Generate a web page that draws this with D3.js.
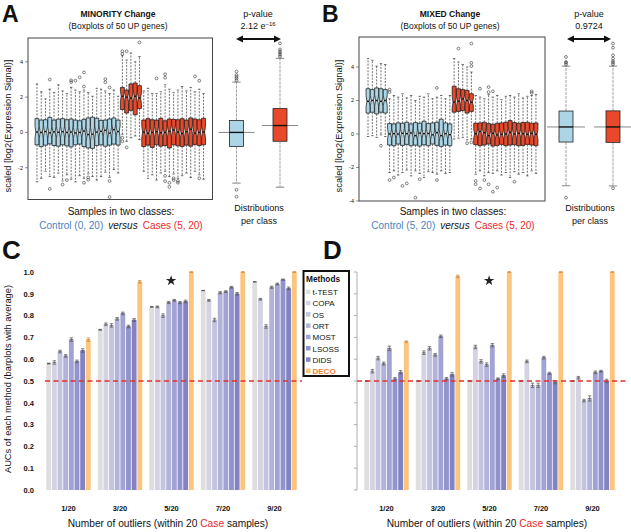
<!DOCTYPE html>
<html><head><meta charset="utf-8">
<script src="https://cdn.jsdelivr.net/npm/d3@7"></script>
<style>
body{margin:0;background:#fff}
text{font-family:"Liberation Sans",Arial,sans-serif}
</style>
</head><body>
<svg id="c" width="631" height="532"></svg>
<script>
// ---------- DATA ----------
// Panel A: 40 samples (20 control, 20 cases; cases 1-5 are outliers)
const aLow = [-2.8,-2.6,-2.2,-2.5,-2.55,-2.3,-2.75,-2.4,-2.65,-2.8,-2.45,-2.6,-2.35,-2.5,-2.7,-2.5,-2.25,-2.55,-2.1,-2.3,
  -0.1,-0.5,-0.3,-0.2,-0.4,
  -2.2,-2.6,-2.4,-2.7,-2.3,-2.2,-2.5,-2.35,-2.6,-2.45,-2.3,-2.55,-2.2,-2.4,-2.65];
const aQ1 = [-0.7,-0.8,-0.72,-0.65,-0.74,-0.78,-0.7,-0.76,-0.82,-0.7,-0.66,-0.8,-0.88,-0.9,-0.74,-0.7,-0.78,-0.72,-0.66,-0.72,
  1.3,1.1,1.25,1.0,1.35,
  -0.8,-0.72,-0.85,-0.7,-0.78,-0.74,-0.88,-0.7,-0.76,-0.8,-0.72,-0.78,-0.68,-0.74,-0.7];
const aMed = [0.02,0.0,0.05,-0.02,0.03,0.01,0.04,0.0,0.02,-0.03,0.0,0.08,-0.12,-0.1,0.02,0.06,0.12,-0.04,0.16,0.05,
  2.05,2.0,1.95,2.05,1.95,
  0.02,-0.05,0.0,0.04,-0.02,0.0,0.06,0.14,0.02,-0.06,0.04,0.18,-0.04,0.0,0.02];
const aQ3 = [0.78,0.7,0.72,0.85,0.7,0.75,0.78,0.72,0.76,0.7,0.66,0.74,0.82,0.86,0.8,0.68,0.7,0.76,0.82,0.7,
  2.55,2.4,2.75,2.8,2.65,
  0.7,0.78,0.72,0.7,0.8,0.66,0.76,0.74,0.72,0.78,0.7,0.82,0.76,0.72,0.8];
const aHigh = [2.75,2.3,1.9,2.45,2.25,2.7,2.35,2.2,2.55,2.4,2.3,2.4,2.25,2.05,2.5,2.45,2.35,2.2,2.4,2.05,
  4.35,4.1,4.5,4.0,4.3,
  2.35,2.5,2.2,2.2,2.3,2.7,2.45,2.25,2.4,2.6,2.35,2.55,2.3,2.45,2.2];
const aOut = [[4,3.0],[9,2.85],[9,2.95],[10,2.93],[11,3.12],[12,2.6],[12,3.4],[17,2.84],[17,3.02],[18,2.55],
  [4,-3.2],[7,-2.95],[8,-2.7],[12,-2.85],[13,-2.55],[13,-2.68],[18,-2.75],[18,-3.66],
  [21,4.6],[21,4.45],[21,-0.3],[21,-0.5],[22,4.6],[22,-0.85],[25,5.1],
  [29,3.06],[31,3.1],[31,3.3],[38,3.17],[39,2.93],[31,-2.46],[31,-2.76],[32,-2.85],[32,-3.08],[33,-2.6],[33,-2.7],[34,-2.75],[34,-2.85],[39,-2.6]];

// Panel B: 40 samples (control 1-5 and cases 1-5 are outliers)
const bLow = [-0.15,-0.1,-0.2,-0.05,-0.15,
  -2.3,-2.2,-2.45,-2.3,-2.15,-2.5,-2.2,-2.35,-2.6,-2.25,-2.3,-2.4,-2.2,-2.35,-2.3,
  -0.3,-0.25,-0.2,-0.35,-0.3,
  -2.4,-2.2,-2.5,-2.3,-2.35,-2.2,-2.45,-2.3,-2.6,-2.25,-2.4,-2.3,-2.5,-2.2,-2.35];
const bQ1 = [1.25,1.3,1.2,1.3,1.25,
  -0.66,-0.7,-0.6,-0.68,-0.62,-0.7,-0.66,-0.72,-0.64,-0.7,-0.6,-0.68,-0.74,-0.66,-0.7,
  1.3,1.35,1.4,1.25,1.35,
  -0.64,-0.7,-0.66,-0.6,-0.72,-0.68,-0.62,-0.7,-0.66,-0.64,-0.7,-0.68,-0.62,-0.66,-0.7];
const bMed = [1.95,2.0,2.0,1.95,2.0,
  0.0,0.02,0.0,0.04,0.02,0.06,-0.1,0.05,0.02,0.03,-0.05,0.08,-0.1,0.02,-0.04,
  1.9,1.95,2.1,2.0,1.9,
  0.02,0.15,0.08,-0.1,0.04,-0.05,-0.02,0.0,0.1,0.0,0.04,0.02,-0.02,0.04,-0.02];
const bQ3 = [2.7,2.65,2.75,2.7,2.65,
  0.62,0.6,0.66,0.64,0.7,0.6,0.68,0.64,0.76,0.62,0.66,0.7,0.88,0.66,0.6,
  2.85,2.7,2.65,2.6,2.4,
  0.64,0.66,0.7,0.62,0.58,0.64,0.66,0.7,0.8,0.68,0.64,0.68,0.7,0.64,0.66];
const bHigh = [4.5,4.4,4.05,4.2,4.15,
  2.1,2.3,2.2,2.4,2.15,2.3,2.0,2.25,2.2,2.4,2.1,2.2,2.3,2.1,2.3,
  4.5,4.3,4.15,4.0,3.7,
  2.3,2.2,2.1,2.35,2.2,2.3,2.05,2.25,2.3,2.2,2.4,2.15,2.25,2.3,2.35];
const bOut = [[4,-0.7],[6,2.65],[6,2.5],[17,2.75],[6,-2.75],[7,-2.6],[9,-3.1],[10,-2.95],[12,-3.8],[13,-2.7],[17,-2.75],
  [22,5.1],[25,5.4],[25,4.25],[25,4.05],[24,-0.55],[25,-0.5],
  [27,2.7],[29,2.8],[29,2.5],[30,2.55],[39,2.55],[39,2.45],[26,-2.8],[26,-3.0],[27,-3.25],[28,-2.75],[29,-3.0],[30,-3.45],[31,-3.2],[35,-2.85]];

// Distributions per class: [low whisker, Q1, median, Q3, high whisker]
const distA = [[-2.87,-0.79,0.0,0.68,2.85],[-3.1,-0.5,0.39,1.35,4.2]];
const distAOut = [[2.95,3.05,3.15,3.25,3.45,-3.25,-3.64],[4.3,4.4,4.5,4.6,4.7,5.05]];
const distB = [[-3.09,-0.48,0.42,1.37,4.05],[-3.1,-0.5,0.42,1.38,4.05]];
const distBOut = [[4.15,4.25,4.3,4.6,-3.8],[4.15,4.25,4.35,4.5,4.7,5.15,5.4,-3.24]];
const pvalA = "2.12 e", pvalAExp = "\u221216", pvalB = "0.9724";

// Panels C & D: mean AUC per method in each outlier group
const groups = ["1/20","3/20","5/20","7/20","9/20"];
const methods = ["t-TEST","COPA","OS","ORT","MOST","LSOSS","DIDS","DECO"];
const methodColors = ["#dedede","#d3d3e3","#c4c4df","#b3b3da","#a2a2d4","#9292cd","#8383c4","#fcc47c"];
const aucC = [
  [0.58,0.585,0.635,0.615,0.69,0.59,0.64,0.69],
  [0.735,0.76,0.755,0.785,0.81,0.75,0.78,0.955],
  [0.84,0.84,0.80,0.86,0.87,0.86,0.865,1.0],
  [0.915,0.87,0.78,0.905,0.91,0.93,0.90,1.0],
  [0.955,0.875,0.75,0.93,0.945,0.965,0.925,1.0]];
const errC = [
  [0.002,0.008,0.006,0.006,0.008,0.006,0.008,0.008],
  [0.002,0.006,0.008,0.006,0.006,0.006,0.007,0.006],
  [0.002,0.004,0.008,0.005,0.004,0.005,0.006,0.0],
  [0.001,0.004,0.008,0.005,0.004,0.004,0.006,0.0],
  [0.001,0.004,0.008,0.005,0.004,0.003,0.006,0.0]];
const aucD = [
  [0.50,0.545,0.605,0.58,0.65,0.51,0.54,0.68],
  [0.50,0.63,0.65,0.62,0.705,0.51,0.53,0.98],
  [0.50,0.656,0.59,0.575,0.664,0.51,0.525,1.0],
  [0.50,0.59,0.48,0.48,0.607,0.535,0.495,1.0],
  [0.50,0.515,0.41,0.42,0.54,0.545,0.50,1.0]];
const errD = [
  [0.002,0.008,0.008,0.007,0.01,0.006,0.008,0.004],
  [0.002,0.008,0.008,0.006,0.006,0.006,0.008,0.006],
  [0.001,0.008,0.008,0.008,0.008,0.004,0.008,0.0],
  [0.001,0.006,0.01,0.01,0.006,0.005,0.008,0.0],
  [0.001,0.006,0.006,0.012,0.006,0.004,0.008,0.0]];
const yTicksC = [0,0.1,0.2,0.3,0.4,0.5,0.6,0.7,0.8,0.9,1.0];
const yTicksAB = [-4,-2,0,2,4];
const starGroup = "5/20";

// ---------- DRAW ----------
const svg = d3.select("#c");
const BLUE = "#acd6e6", RED = "#e8492a";

function txt(g, x, y, s, size, opt = {}) {
  const t = g.append("text").attr("x", x).attr("y", y).attr("font-size", size)
    .attr("text-anchor", opt.anchor || "middle").attr("fill", opt.fill || "#111")
    .attr("font-weight", opt.bold ? "bold" : "normal").text(s);
  if (opt.italic) t.attr("font-style", "italic");
  if (opt.rot) t.attr("transform", `rotate(-90,${x},${y})`);
  return t;
}

function boxPanel(frame, dom, lo, q1, med, q3, hi, outl, colorFor) {
  const g = svg.append("g");
  const xs = d3.scaleLinear().domain([-1.1, 42.1]).range([frame.x0, frame.x1]);
  const ys = d3.scaleLinear().domain(dom).range([frame.y1, frame.y0]);
  const w = (xs(1) - xs(0)) * 0.92;
  lo.forEach((_, i) => {
    const cx = xs(i + 1), x0 = cx - w / 2, x1 = cx + w / 2;
    [[q3[i], hi[i]], [q1[i], lo[i]]].forEach(([a, b]) => {
      g.append("line").attr("x1", cx).attr("x2", cx).attr("y1", ys(a)).attr("y2", ys(b))
        .attr("stroke", "#333").attr("stroke-width", 0.7).attr("stroke-dasharray", "2,1.3");
      g.append("line").attr("x1", cx - w * 0.3).attr("x2", cx + w * 0.3).attr("y1", ys(b)).attr("y2", ys(b))
        .attr("stroke", "#333").attr("stroke-width", 0.7);
    });
    const nh = 1.58 * (q3[i] - q1[i]) / Math.sqrt(50);
    const ym = ys(med[i]), ya = ys(med[i] + nh), yb = ys(med[i] - nh);
    const pts = [[x0, ys(q1[i])], [x1, ys(q1[i])], [x1, yb], [x1 - w * 0.22, ym], [x1, ya], [x1, ys(q3[i])],
      [x0, ys(q3[i])], [x0, ya], [x0 + w * 0.22, ym], [x0, yb]];
    g.append("polygon").attr("points", pts.map(p => p.join(",")).join(" "))
      .attr("fill", colorFor(i)).attr("stroke", "#1a1a1a").attr("stroke-width", 0.75);
    g.append("line").attr("x1", x0 + w * 0.22).attr("x2", x1 - w * 0.22).attr("y1", ym).attr("y2", ym)
      .attr("stroke", "#111").attr("stroke-width", 1.3);
  });
  outl.forEach(([i, v]) => {
    g.append("circle").attr("cx", xs(i)).attr("cy", ys(v)).attr("r", 1.4)
      .attr("fill", "none").attr("stroke", "#333").attr("stroke-width", 0.6);
  });
  g.append("rect").attr("x", frame.x0).attr("y", frame.y0).attr("width", frame.x1 - frame.x0)
    .attr("height", frame.y1 - frame.y0).attr("fill", "none").attr("stroke", "#444").attr("stroke-width", 1);
  yTicksAB.filter(t => t >= dom[0] - 0.05 && t <= dom[1]).forEach(t => {
    const y = ys(t);
    g.append("line").attr("x1", frame.x0 - 3).attr("x2", frame.x0).attr("y1", y).attr("y2", y)
      .attr("stroke", "#444").attr("stroke-width", 0.6);
    txt(g, frame.x0 - 5, y + 2, t, 5.5, { anchor: "end" });
  });
  return ys;
}

function distPanel(ys, centers, stats, outs, lineHalf) {
  const g = svg.append("g");
  const w = 14;
  stats.forEach((s, k) => {
    const cx = centers[k];
    const [lo, q1, med, q3, hi] = s;
    g.append("line").attr("x1", cx - lineHalf).attr("x2", cx + lineHalf).attr("y1", ys(med)).attr("y2", ys(med))
      .attr("stroke", "#888").attr("stroke-width", 1);
    [[q3, hi], [q1, lo]].forEach(([a, b]) => {
      g.append("line").attr("x1", cx).attr("x2", cx).attr("y1", ys(a)).attr("y2", ys(b))
        .attr("stroke", "#999").attr("stroke-width", 0.9).attr("stroke-dasharray", "3,1");
      g.append("line").attr("x1", cx - w * 0.3).attr("x2", cx + w * 0.3).attr("y1", ys(b)).attr("y2", ys(b))
        .attr("stroke", "#777").attr("stroke-width", 0.9);
    });
    g.append("rect").attr("x", cx - w / 2).attr("y", ys(q3)).attr("width", w).attr("height", ys(q1) - ys(q3))
      .attr("fill", k === 0 ? BLUE : RED).attr("stroke", "#222").attr("stroke-width", 0.8);
    g.append("line").attr("x1", cx - w / 2).attr("x2", cx + w / 2).attr("y1", ys(med)).attr("y2", ys(med))
      .attr("stroke", "#111").attr("stroke-width", 1.4);
    outs[k].forEach(v => g.append("circle").attr("cx", cx).attr("cy", ys(v)).attr("r", 1.4)
      .attr("fill", "none").attr("stroke", "#333").attr("stroke-width", 0.6));
  });
}

function arrow(x1, x2, y) {
  const g = svg.append("g");
  g.append("line").attr("x1", x1 + 4).attr("x2", x2 - 4).attr("y1", y).attr("y2", y)
    .attr("stroke", "#111").attr("stroke-width", 2);
  g.append("path").attr("d", `M${x1},${y}L${x1 + 7},${y - 3.5}L${x1 + 7},${y + 3.5}Z`).attr("fill", "#111");
  g.append("path").attr("d", `M${x2},${y}L${x2 - 7},${y - 3.5}L${x2 - 7},${y + 3.5}Z`).attr("fill", "#111");
}

// ----- Panel A -----
const T = svg.append("g");
txt(T, 2, 22, "A", 23, { anchor: "start", bold: true });
txt(T, 118, 17, "MINORITY Change", 8.5, { bold: true });
txt(T, 118, 29, "(Boxplots of 50 UP genes)", 8.5);
const yA = boxPanel({ x0: 28, x1: 212.5, y0: 38, y1: 199.5 }, [-3.8, 5.35], aLow, aQ1, aMed, aQ3, aHigh, aOut,
  i => i < 20 ? BLUE : RED);
distPanel(yA, [236.5, 280], distA, distAOut, 18);
arrow(236, 281, 39);
txt(T, 258, 17, "p-value", 9);
const pa = txt(T, 258, 29, pvalA, 9);
pa.append("tspan").attr("dy", -3.5).attr("font-size", 6).text(pvalAExp);
txt(T, 10.5, 126, "scaled [log2(Expression Signal)]", 9.3, { rot: true });
txt(T, 121, 215, "Samples in two classes:", 10);
const la = txt(T, 121, 229, "", 10);
la.append("tspan").attr("fill", "#4a82c3").text("Control (0, 20)");
la.append("tspan").attr("font-style", "italic").attr("fill", "#111").text("\u2002versus\u2002");
la.append("tspan").attr("fill", "#e82a2a").text("Cases (5, 20)");
txt(T, 259, 211, "Distributions", 9);
txt(T, 259, 224, "per class", 9);

// ----- Panel B -----
txt(T, 322, 22, "B", 23, { anchor: "start", bold: true });
txt(T, 450, 17, "MIXED Change", 8.5, { bold: true });
txt(T, 450, 29, "(Boxplots of 50 UP genes)", 8.5);
const yB = boxPanel({ x0: 359, x1: 545, y0: 37, y1: 201 }, [-4.0, 5.79], bLow, bQ1, bMed, bQ3, bHigh, bOut,
  i => i < 20 ? BLUE : RED);
distPanel(yB, [566, 613], distB, distBOut, 19);
arrow(567, 611, 39);
txt(T, 589, 17, "p-value", 9);
txt(T, 589, 29, pvalB, 9);
txt(T, 341.5, 126, "scaled [log2(Expression Signal)]", 9.3, { rot: true });
txt(T, 453, 215, "Samples in two classes:", 10);
const lb = txt(T, 453, 229, "", 10);
lb.append("tspan").attr("fill", "#4a82c3").text("Control (5, 20)");
lb.append("tspan").attr("font-style", "italic").attr("fill", "#111").text("\u2002versus\u2002");
lb.append("tspan").attr("fill", "#e82a2a").text("Cases (5, 20)");
txt(T, 590, 211, "Distributions", 9);
txt(T, 590, 224, "per class", 9);

// ----- Panels C & D -----
const yC = d3.scaleLinear().domain([0, 1]).range([490, 272]);
function barPanel(x0, x1, data, err, dashX0, dashX1) {
  const g = svg.append("g");
  const xg = d3.scaleBand().domain(groups).range([x0, x1]).paddingInner(0.126).paddingOuter(0.126);
  const xm = d3.scaleBand().domain(methods).range([0, xg.bandwidth()]).paddingInner(0.14).paddingOuter(0.05);
  groups.forEach((gr, gi) => {
    methods.forEach((m, mi) => {
      const v = data[gi][mi], e = err[gi][mi];
      const bx = xg(gr) + xm(m), bw = xm.bandwidth();
      g.append("rect").attr("x", bx).attr("y", yC(v)).attr("width", bw).attr("height", yC(0) - yC(v))
        .attr("fill", methodColors[mi]);
      const cx = bx + bw / 2, ec = mi === 7 ? "#c98a3a" : "#555";
      g.append("line").attr("x1", cx).attr("x2", cx).attr("y1", yC(v - e)).attr("y2", yC(v + e))
        .attr("stroke", ec).attr("stroke-width", 0.7);
      [v - e, v, v + e].forEach(q => g.append("line").attr("x1", cx - bw * 0.35).attr("x2", cx + bw * 0.35)
        .attr("y1", yC(q)).attr("y2", yC(q)).attr("stroke", ec).attr("stroke-width", 0.7));
    });
    txt(g, xg(gr) + xg.bandwidth() / 2, 511, gr, 7.5, { bold: true });
  });
  g.append("line").attr("x1", dashX0).attr("x2", dashX1).attr("y1", yC(0.5)).attr("y2", yC(0.5))
    .attr("stroke", "#e3302f").attr("stroke-width", 1.5).attr("stroke-dasharray", "5,3.5");
  g.append("path").attr("d", d3.symbol(d3.symbolStar, 34)())
    .attr("transform", `translate(${xg(starGroup) + xm("ORT") + xm.bandwidth()},${yC(0.96)})`).attr("fill", "#222");
  return xg;
}
barPanel(39.5, 303.5, aucC, errC, 45, 302);
barPanel(357.5, 621.5, aucD, errD, 357, 629);

yTicksC.forEach(t => txt(T, 34, yC(t) + 2.7, d3.format(".1f")(t), 7.5, { anchor: "end", bold: true }));
const ax = svg.append("g");
ax.append("line").attr("x1", 357).attr("x2", 357).attr("y1", yC(0)).attr("y2", yC(1)).attr("stroke", "#999").attr("stroke-width", 0.8);
yTicksC.forEach(t => ax.append("line").attr("x1", 354).attr("x2", 357).attr("y1", yC(t)).attr("y2", yC(t)).attr("stroke", "#999").attr("stroke-width", 0.8));

txt(T, 2, 259, "C", 26, { anchor: "start", bold: true });
txt(T, 323, 259, "D", 26, { anchor: "start", bold: true });
txt(T, 10.5, 379, "AUCs of each method (barplots with average)", 9.3, { rot: true });
[168, 487].forEach(cx => {
  const t = txt(T, cx, 527, "", 10.2);
  t.append("tspan").text("Number of outliers (within 20 ");
  t.append("tspan").attr("fill", "#e82a2a").text("Case");
  t.append("tspan").text(" samples)");
});

// Legend
const lg = svg.append("g");
lg.append("rect").attr("x", 303.5).attr("y", 271).attr("width", 45.5).attr("height", 105)
  .attr("fill", "#fff").attr("stroke", "#111").attr("stroke-width", 2);
txt(lg, 306, 281.5, "Methods", 8.3, { anchor: "start", bold: true });
methods.forEach((m, i) => {
  const y = 292 + i * 11.3;
  lg.append("rect").attr("x", 306).attr("y", y - 2.5).attr("width", 4.5).attr("height", 4.5).attr("fill", methodColors[i]);
  txt(lg, 312.5, y + 3, m, 8, { anchor: "start", bold: i === 7, fill: i === 7 ? "#f5803a" : "#111" });
});
</script>
</body></html>
